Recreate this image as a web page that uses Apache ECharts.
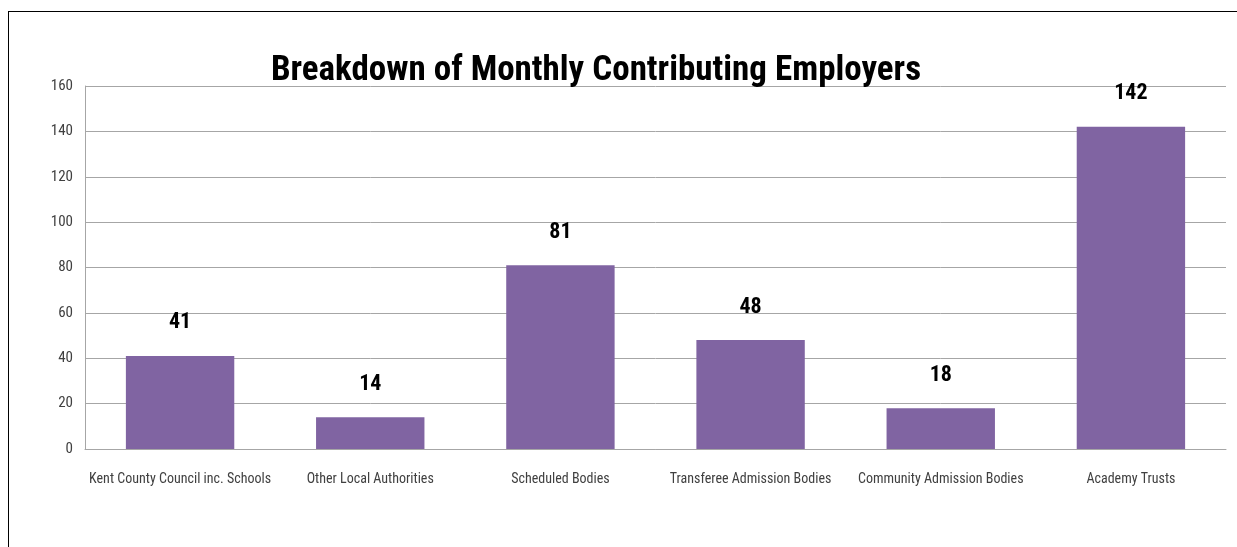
<!DOCTYPE html>
<html><head><meta charset="utf-8">
<script src="https://cdn.jsdelivr.net/npm/echarts@6/dist/echarts.min.js"></script>
<style>
html,body{margin:0;padding:0;background:#fff;}
#frame{position:absolute;left:8px;top:11px;width:1240px;height:540px;border-top:1px solid #000;border-left:1px solid #000;}
#c{position:absolute;left:0;top:0;width:1237px;height:547px;}
</style></head><body>
<div id="frame"></div>
<div id="c"></div>
<script>
const titleText = 'Breakdown of Monthly Contributing Employers';
const categories = ['Kent County Council inc. Schools','Other Local Authorities','Scheduled Bodies','Transferee Admission Bodies','Community Admission Bodies','Academy Trusts'];
const employers = [41, 14, 81, 48, 18, 142];
const FONT = '"Liberation Sans Narrow", "Roboto Condensed", "DejaVu Sans Condensed", sans-serif';
const chart = echarts.init(document.getElementById('c'));
chart.setOption({
  animation:false,
  title:{text:titleText,left:591,top:49,textAlign:'center',
    textStyle:{fontFamily:FONT,fontSize:35,fontWeight:'bold',color:'#000'}},
  grid:{left:85,right:11,top:86,bottom:98,containLabel:false},
  xAxis:{type:'category',data:categories,
    axisLine:{lineStyle:{color:'#a6a6a6',width:1}},axisTick:{show:false},
    axisLabel:{fontFamily:FONT,fontSize:14,color:'#404040',margin:23,interval:0}},
  yAxis:{type:'value',min:0,max:160,interval:20,
    axisLine:{show:true,lineStyle:{color:'#a6a6a6',width:1}},axisTick:{show:false},
    splitLine:{lineStyle:{color:'#a6a6a6',width:1}},
    axisLabel:{fontFamily:FONT,fontSize:15,color:'#404040',margin:12}},
  series:[{type:'bar',data:employers,barWidth:'57%',
    itemStyle:{color:'#8064a2'},
    label:{show:true,position:'top',distance:22,fontFamily:FONT,fontSize:22,fontWeight:'bold',color:'#000'}}]
});
</script>
</body></html>
